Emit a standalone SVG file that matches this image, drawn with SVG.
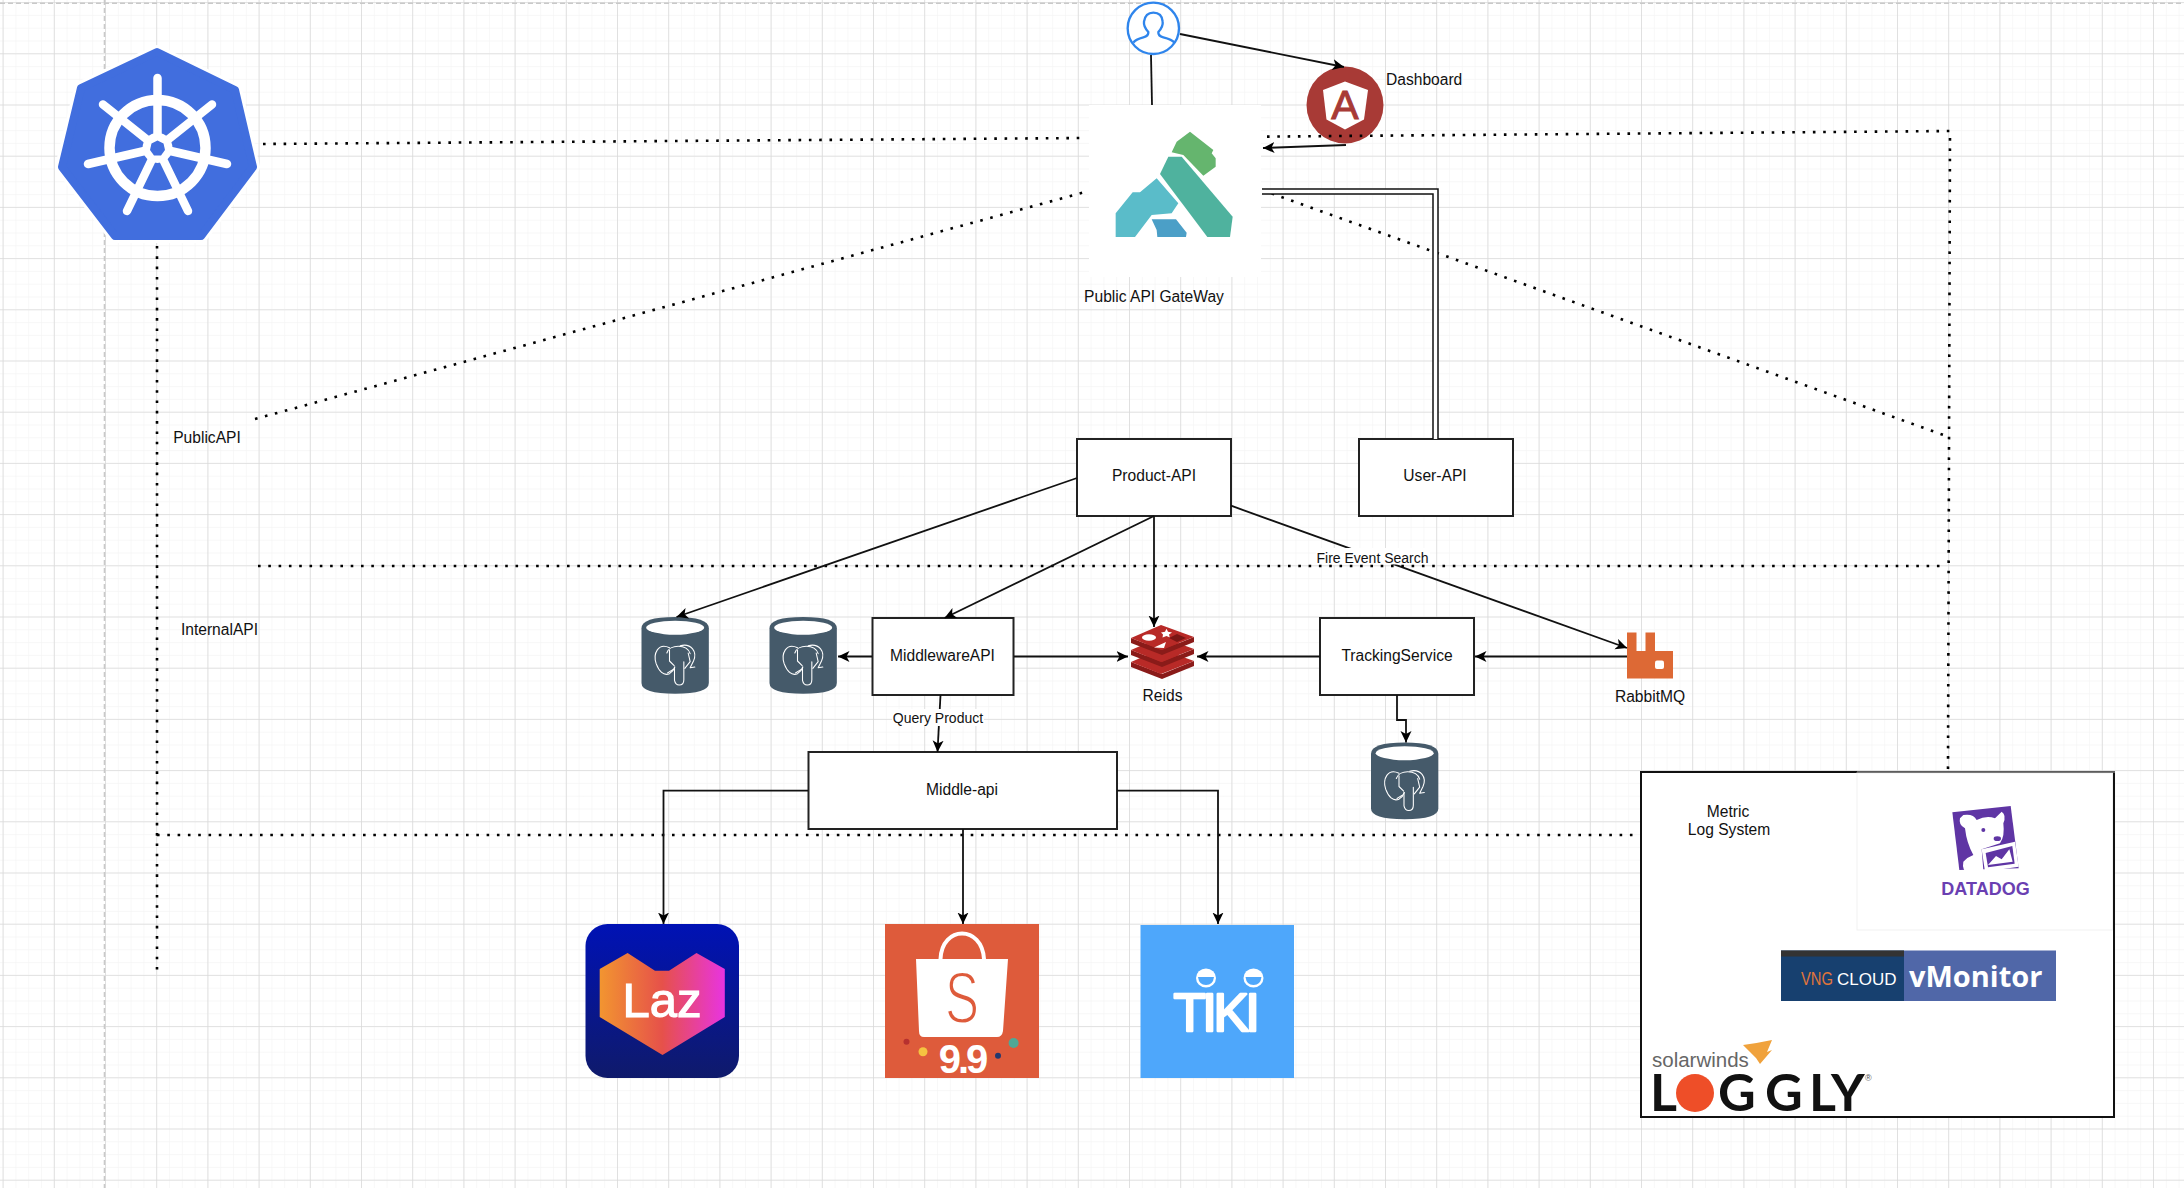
<svg xmlns="http://www.w3.org/2000/svg" width="2184" height="1188" viewBox="0 0 2184 1188">
<style>
text{font-family:"Liberation Sans",Arial,sans-serif;fill:#111;font-size:15.6px}
.c{text-anchor:middle}
.box{fill:#fff;stroke:#222;stroke-width:2}
.link{fill:none;stroke:#111;stroke-width:1.8}
.arrow{marker-end:url(#arr)}
.dot{fill:none;stroke:#000;stroke-width:2.6;stroke-dasharray:2.6 7.7}
.guide{fill:none;stroke:#c9c9c9;stroke-width:1.6;stroke-dasharray:5 3}
.lbl{font-size:14px}
</style>
<defs>
<pattern id="minor" patternUnits="userSpaceOnUse" x="2.6" y="2.1" width="12.8" height="12.8"><path d="M0 0H12.8M0 0V12.8" fill="none" stroke="#f5f5f5" stroke-width="1.4"/></pattern>
<pattern id="major" patternUnits="userSpaceOnUse" x="2.6" y="2.1" width="51.2" height="51.2"><path d="M0 0H51.2M0 0V51.2" fill="none" stroke="#dadada" stroke-width="1.6"/></pattern>
<marker id="arr" markerUnits="userSpaceOnUse" markerWidth="14" markerHeight="14" refX="11.5" refY="6" orient="auto"><path d="M11.5 6L0 .5L3 6L0 11.5Z" fill="#000"/></marker>
<linearGradient id="lazbg" x1="0" y1="0" x2="0" y2="1"><stop offset="0" stop-color="#0012b5"/><stop offset="1" stop-color="#0f1a6b"/></linearGradient>
<linearGradient id="lazh" x1="0" y1="0" x2="1" y2="0"><stop offset="0" stop-color="#f29530"/><stop offset=".5" stop-color="#e6514a"/><stop offset="1" stop-color="#e834e0"/></linearGradient>
<g id="pg">
<path d="M0 34Q0 0 101 0T202 34V198Q202 230 101 230T0 198Z" fill="#455a6a"/>
<ellipse cx="101" cy="32" rx="87" ry="21" fill="#fff"/>
<g fill="none" stroke="#fff" stroke-width="3.2" stroke-linecap="round" stroke-linejoin="round">
<path d="M84 92C50 76 34 110 44 140C52 162 66 178 84 170Q96 162 100 150"/>
<path d="M76 108C84 82 136 80 146 110"/>
<path d="M116 86C150 78 168 104 156 132L146 152L160 150"/>
<path d="M99 150V190Q102 204 113 204Q127 204 127 188V134"/>
<path d="M84 100V132L98 146M140 108L146 134L130 154M78 168L94 158"/>
</g>
</g>
<g id="redis-layer">
<path d="M1131 638V643L1162 655L1194 642V637L1162 650Z" fill="#8a1b19"/>
<path d="M1131 638L1161 625L1194 637L1161 650Z" fill="#b82a27"/>
</g>
</defs>
<rect width="2184" height="1188" fill="#fff"/>
<rect width="2184" height="1188" fill="url(#minor)"/>
<rect width="2184" height="1188" fill="url(#major)"/>
<path class="guide" d="M0 3.3H2184"/>
<path class="guide" d="M104.5 0V1188"/>

<g id="kubernetes">
<path d="M157 52L235 90L253 167L201 236L115 236L62 167L81 88Z" fill="#416ede" stroke="#fff" stroke-width="14" stroke-linejoin="round"/>
<path d="M157 52L235 90L253 167L201 236L115 236L62 167L81 88Z" fill="#416ede" stroke="#416ede" stroke-width="8" stroke-linejoin="round"/>
<circle cx="157.5" cy="148" r="48" fill="none" stroke="#fff" stroke-width="10.5"/>
<g stroke="#fff" stroke-linecap="round" fill="none">
<path stroke-width="8.5" d="M157.5 148V78M157.5 148L212 104.500M157.500 148L227 164M157.500 148L127 211M157.500 148L188 211M157.500 148L103 104.500M157.500 148L88 164"/>
</g>
<circle cx="157.500" cy="148" r="15" fill="#fff"/>
<path d="M157.500 140.500L163.500 143.500L165 150L161 155.500H154L150 150L151.500 143.500Z" fill="#416ede"/>
</g>

<g id="user" transform="translate(1040 0) scale(.33333)">
<circle cx="340" cy="85" r="77" fill="#fff" stroke="#2f85ec" stroke-width="7"/>
<path d="M280 128Q286 118 310 112Q326 108 325 96Q310 80 312 65Q316 38 340 38Q366 38 368 65Q370 80 355 96Q354 108 370 112Q396 118 403 128" fill="none" stroke="#2f85ec" stroke-width="7" stroke-linejoin="round"/>
</g>

<g id="dashboard">
<circle cx="1345" cy="105" r="38.500" fill="#a83a36"/>
<path d="M1345 81.500L1368 90L1364 119.500L1345 129.500L1326.500 119.500L1323 90Z" fill="#fff"/>
<text x="1345" y="118.500" class="c" style="font-size:41px;fill:#a83a36;stroke:#a83a36;stroke-width:1">A</text>
<text x="1386" y="85">Dashboard</text>
</g>

<g id="gateway">
<rect x="1089" y="105" width="172" height="172" fill="#fff"/>
<g transform="translate(1040 0) scale(.33333)">
<path d="M450 395L520 450L515 460L527 475V500L490 527L430 465L395 457L410 425Z" fill="#65b56e"/>
<path d="M385 470H425L578 650L570 711H502L360 522Z" fill="#4fb29e"/>
<path d="M350 535L415 610L395 640L335 645L285 711H227V640L278 577H300Z" fill="#5abcc9"/>
<path d="M335 658H408L440 698L438 711H352L350 690Z" fill="#4b9fc7"/>
</g>
<text x="1154" y="302" class="c">Public API GateWay</text>
</g>

<g id="product-api"><rect class="box" x="1077" y="439" width="154" height="77"/><text x="1154" y="481" class="c">Product-API</text></g>
<g id="user-api"><rect class="box" x="1359" y="439" width="154" height="77"/><text x="1435" y="481" class="c">User-API</text></g>
<g id="middleware-api"><rect class="box" x="872.500" y="618" width="141" height="77"/><text x="942.500" y="661" class="c">MiddlewareAPI</text></g>
<g id="tracking-service"><rect class="box" x="1320" y="618" width="154" height="77"/><text x="1397" y="661" class="c">TrackingService</text></g>
<g id="middle-api"><rect class="box" x="808.500" y="752" width="308.500" height="77"/><text x="962" y="795" class="c">Middle-api</text></g>

<g id="postgres-1"><use href="#pg" transform="translate(641.500 617) scale(.33333)"/></g>
<g id="postgres-2"><use href="#pg" transform="translate(769.500 617) scale(.33333)"/></g>
<g id="postgres-3"><use href="#pg" transform="translate(1371 742.500) scale(.33333)"/></g>

<g id="redis">
<use href="#redis-layer" y="24"/>
<use href="#redis-layer" y="12"/>
<use href="#redis-layer"/>
<ellipse cx="1149" cy="637.500" rx="7" ry="3.300" fill="#fff"/>
<path d="M1161 632.500l4-.8 1.500-3 1.500 3 4 .8-3 2 .8 3-3.300-1.500-4 1.500.5-3z" fill="#fff"/>
<path d="M1154 647.500L1166 642L1164 648Z" fill="#fff"/>
<path d="M1169 638L1177 634L1186 638L1177 642Z" fill="#7a1614"/>
<text x="1162.500" y="701" class="c">Reids</text>
</g>

<g id="rabbitmq">
<path d="M1627 632.500H1636.500V651H1645.500V632.500H1655V651H1673V678.500H1627Z" fill="#dd6935"/>
<rect x="1655" y="660.500" width="9" height="8.500" rx="2" fill="#fff"/>
<text x="1650" y="701.500" class="c">RabbitMQ</text>
</g>

<g id="lazada">
<rect x="585.500" y="924" width="153.500" height="154" rx="22" fill="url(#lazbg)"/>
<path d="M599.700 969L627.600 953L655 970.700H669L696.500 953L724.800 969V1017L662.500 1055L599.700 1017Z" fill="url(#lazh)"/>
<text x="662" y="1017" class="c" style="font-size:49px;fill:#fff;stroke:#fff;stroke-width:1.200">Laz</text>
</g>

<g id="shopee">
<rect x="885" y="924" width="154" height="154" fill="#de5b3b"/>
<path d="M940.500 959C942 925 982 925 984 959" fill="none" stroke="#fff" stroke-width="4"/>
<path d="M916 959H1008L1003 1031Q1002 1037 997 1037H924Q919 1037 919 1031Z" fill="#fff"/>
<text x="945" y="1023" textLength="34" lengthAdjust="spacingAndGlyphs" style="font-size:72px;fill:#de5b3b;stroke:#fff;stroke-width:2">S</text>
<text x="962" y="1073" class="c" style="font-size:40px;font-weight:700;fill:#fff;letter-spacing:-3px">9.9</text>
<circle cx="906.500" cy="1041.700" r="3" fill="#b7312f"/>
<circle cx="923" cy="1051.700" r="4.500" fill="#f5c341"/>
<circle cx="1013.600" cy="1043" r="5" fill="#4fa896"/>
<circle cx="998" cy="1055.700" r="3" fill="#24386e"/>
</g>

<g id="tiki">
<rect x="1140.500" y="925" width="153.500" height="153" fill="#4ea7fb"/>
<ellipse cx="1206" cy="978" rx="10" ry="9.500" fill="#fff"/>
<path d="M1198 977H1214Q1213 985 1206 985Q1199 985 1198 977Z" fill="#4ea7fb"/>
<ellipse cx="1253.500" cy="978" rx="10" ry="9.500" fill="#fff"/>
<path d="M1245.500 977H1261.500Q1260.500 985 1253.500 985Q1246.500 985 1245.500 977Z" fill="#4ea7fb"/>
<text x="1215" y="1031" class="c" style="font-size:53px;fill:#fff;stroke:#fff;stroke-width:2.500;stroke-linejoin:round;letter-spacing:-3.500px">TIKI</text>
</g>

<g id="metric-log-system">
<rect x="1641" y="772" width="473" height="345" fill="#fff" stroke="#111" stroke-width="2"/>
<text x="1728" y="817" class="c">Metric</text>
<text x="1729" y="835" class="c">Log System</text>
<g id="datadog">
<rect x="1857" y="773" width="255.500" height="157" fill="#fff" stroke="#f1f1f1" stroke-width="1"/>
<path d="M1857 772H2115" stroke="#777" stroke-width="1.500"/>
<g transform="translate(1620 760) scale(.33333)">
<path d="M997 157L1172 138L1196 325L1018 330Z" fill="#5f35a4"/>
<path d="M1030 165Q1060 160 1070 180Q1100 165 1125 175L1145 155Q1160 165 1150 190Q1155 230 1140 250L1085 268L1090 330Q1070 350 1045 345Q1025 330 1030 305Q1045 290 1060 285Q1040 250 1035 205Q1015 195 1020 175Z" fill="#fff"/>
<path d="M1085 268L1185 245L1196 320L1095 335Z" fill="#fff"/>
<path d="M1097 279L1177 258L1184 311L1104 322Z" fill="#5f35a4"/>
<path d="M1104 315L1128 288L1145 298L1168 268L1178 305Z" fill="#fff"/>
<circle cx="1090" cy="210" r="6" fill="#5f35a4"/><ellipse cx="1132" cy="236" rx="11" ry="7" fill="#5f35a4"/>
</g>
<text x="1985.500" y="895" class="c" style="font-size:18px;font-weight:700;fill:#6a3fb2">DATADOG</text>
</g>
<g id="vmonitor">
<rect x="1781" y="950.500" width="123" height="50.500" fill="#17406f"/>
<rect x="1781" y="950.500" width="123" height="6" fill="#333"/>
<rect x="1904" y="950.500" width="152" height="50.500" fill="#5067a8"/>
<text x="1801" y="985" textLength="32" lengthAdjust="spacingAndGlyphs" style="font-size:18px;fill:#e2763a">VNG</text>
<text x="1837" y="985" style="font-size:17px;fill:#fff">CLOUD</text>
<text x="1909" y="987" style="font-family:'Open Sans',sans-serif;font-size:29px;font-weight:700;fill:#fff">vMonitor</text>
</g>
<g id="loggly">
<text x="1652" y="1067" style="font-size:20.500px;fill:#666">solarwinds</text>
<path d="M1743 1045Q1758 1043 1772 1040L1767 1052L1772 1050L1760 1064L1756 1058L1750 1052Z" fill="#f0a23c"/>
<text x="1650" y="1111" style="font-family:Lato,sans-serif;font-size:52px;font-weight:700;fill:#111">L</text>
<circle cx="1695" cy="1093" r="19" fill="#ee4e28"/>
<text x="1718 1765 1809 1831" y="1111" style="font-family:Lato,sans-serif;font-size:52px;font-weight:700;fill:#111">GGLY</text>
<text x="1865" y="1081" style="font-size:9px;fill:#555">®</text>
</g>
</g>

<text id="public-api-label" x="207" y="442.500" class="c">PublicAPI</text>
<text id="internal-api-label" x="219.500" y="635" class="c">InternalAPI</text>

<g id="connectors">
<rect x="1316" y="548" width="114" height="16.500" fill="#fff"/>
<path class="link arrow" d="M1231 505.700L1627 648"/>
<rect x="1316" y="548" width="114" height="16.500" fill="#fff"/>
<path class="dot" d="M263 144L1085 138"/>
<path class="dot" d="M1267 136.600L1950 131L1948 769"/>
<path class="dot" d="M255 419L1085 192"/>
<path class="dot" d="M1262 190L1949 437"/>
<path class="dot" d="M258 566H1946"/>
<path class="dot" d="M157 246V975"/>
<path class="dot" d="M157 835H1638"/>
<path class="link" d="M1151 55L1152 105"/>
<path class="link arrow" d="M1180 34L1344 67"/>
<path class="link arrow" d="M1346 145L1263 148"/>
<path d="M1262 191.500H1435.500V439" fill="none" stroke="#111" stroke-width="6.500"/>
<path d="M1260 191.500H1435.500V439" fill="none" stroke="#fff" stroke-width="3.500"/>
<path class="link arrow" d="M1077 478L676.500 617"/>
<path class="link arrow" d="M1154 516L944.500 618"/>
<path class="link arrow" d="M1154 516V627"/>
<path class="link arrow" d="M872 656.500H838"/>
<path class="link arrow" d="M1014 656.500H1128"/>
<path class="link arrow" d="M1320 656.500H1197"/>
<path class="link arrow" d="M1627 656.500H1475"/>
<path class="link arrow" d="M1397 695V720H1406V742.500"/>
<path class="link arrow" d="M940.500 695L937.500 752"/>
<path class="link arrow" d="M808 790.700H663.500V924"/>
<path class="link arrow" d="M963 829V924"/>
<path class="link arrow" d="M1117 790.700H1218V924"/>
<rect x="892" y="709" width="92" height="17" fill="#fff"/>
<text x="938" y="723" class="c lbl">Query Product</text>
<text x="1372.500" y="563" class="c lbl">Fire Event Search</text>
</g>
</svg>
